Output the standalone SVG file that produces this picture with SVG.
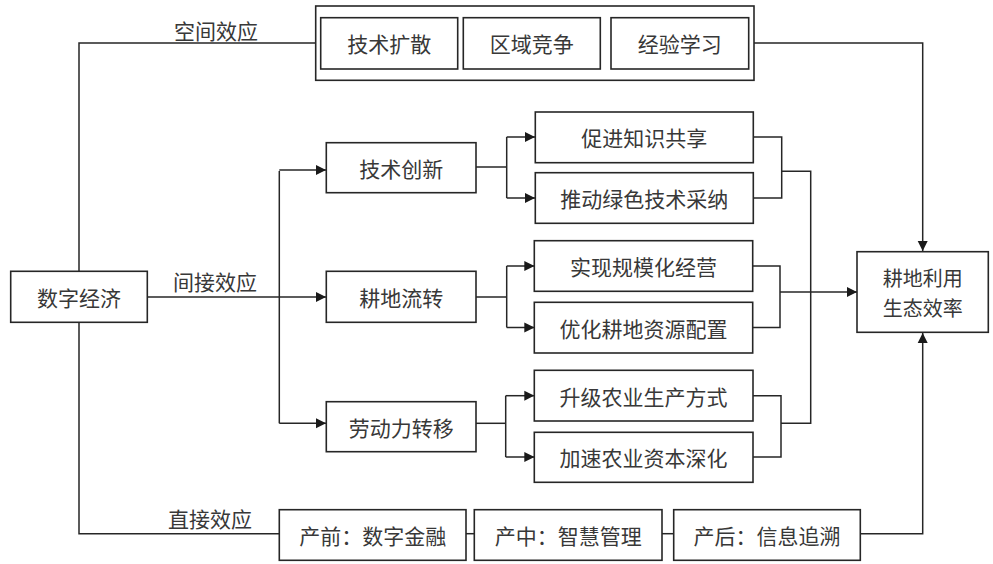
<svg xmlns="http://www.w3.org/2000/svg" width="993" height="564" viewBox="0 0 993 564">
<style>
.b{fill:#fff;stroke:#262626;stroke-width:1.6}
.l{fill:none;stroke:#262626;stroke-width:1.5}
text{font-family:"Noto Sans CJK SC","Liberation Serif",serif;font-size:21px;fill:#383838;text-anchor:middle;dominant-baseline:central}
</style>
<defs>
<marker id="a" viewBox="0 0 10 11" refX="10" refY="5.5" markerWidth="10" markerHeight="11" markerUnits="userSpaceOnUse" orient="auto">
<path d="M0,0.5 L10,5.5 L0,10.5 Z" fill="#1a1a1a"/>
</marker>
</defs>
<g id="connectors">
<path class="l" d="M79,271 V43 H316"/>
<path class="l" d="M754,43 H922.7 V251" marker-end="url(#a)"/>
<path class="l" d="M147,297 H326" marker-end="url(#a)"/>
<path class="l" d="M279.3,171 V423.3"/>
<path class="l" d="M279.3,170 H326" marker-end="url(#a)"/>
<path class="l" d="M279.3,423.3 H326" marker-end="url(#a)"/>
<path class="l" d="M79,322 V533.7 H279.3"/>
<path class="l" d="M466,533.7 H474.3"/>
<path class="l" d="M662,533.7 H673.7"/>
<path class="l" d="M860.3,533.7 H922.7 V333" marker-end="url(#a)"/>
<path class="l" d="M476,167 H506.7"/>
<path class="l" d="M506.7,137 V198"/>
<path class="l" d="M506.7,137 H535" marker-end="url(#a)"/>
<path class="l" d="M506.7,198 H535" marker-end="url(#a)"/>
<path class="l" d="M476,297 H506.7"/>
<path class="l" d="M506.7,266 V327.5"/>
<path class="l" d="M506.7,266 H534.3" marker-end="url(#a)"/>
<path class="l" d="M506.7,327.5 H534.3" marker-end="url(#a)"/>
<path class="l" d="M476,423.3 H505.7"/>
<path class="l" d="M505.7,395.7 V457"/>
<path class="l" d="M505.7,395.7 H534.3" marker-end="url(#a)"/>
<path class="l" d="M505.7,457 H534.3" marker-end="url(#a)"/>
<path class="l" d="M753.3,137 H781.7 V198 H753.3"/>
<path class="l" d="M781.7,171.3 H810.7 V423.3 H781"/>
<path class="l" d="M752.7,266 H780 V327.5 H752.7"/>
<path class="l" d="M780,292 H857" marker-end="url(#a)"/>
<path class="l" d="M753,395.7 H781 V457 H753"/>
</g>
<g id="labels">
<text x="216" y="30">空间效应</text>
<text x="215" y="281">间接效应</text>
<text x="210" y="518">直接效应</text>
</g>
<g id="spatial">
<rect class="b" x="315.7" y="6" width="438.3" height="74.3"/>
<g id="n-jsks"><rect class="b" x="320.7" y="17.7" width="137" height="51.3"/><text x="389.2" y="43.3">技术扩散</text></g>
<g id="n-qyjz"><rect class="b" x="463.3" y="17.7" width="137" height="51.3"/><text x="531.8" y="43.3">区域竞争</text></g>
<g id="n-jyxx"><rect class="b" x="611" y="17.7" width="137.7" height="51.3"/><text x="679.8" y="43.3">经验学习</text></g>
</g>
<g id="n-szjj"><rect class="b" x="10.7" y="271.3" width="136.6" height="51"/><text x="79" y="297">数字经济</text></g>
<g id="n-jscx"><rect class="b" x="326.3" y="142.7" width="149.7" height="50"/><text x="401.2" y="167.7">技术创新</text></g>
<g id="n-gdlz"><rect class="b" x="326.3" y="271.3" width="149.7" height="51"/><text x="401.2" y="297">耕地流转</text></g>
<g id="n-ldlzy"><rect class="b" x="326.3" y="401.7" width="149.7" height="50"/><text x="401.2" y="426.7">劳动力转移</text></g>
<g id="n-cjzsgx"><rect class="b" x="535.3" y="112" width="218" height="50.7"/><text x="644.3" y="137.3">促进知识共享</text></g>
<g id="n-tdlsjscn"><rect class="b" x="535.3" y="172.7" width="218" height="50.6"/><text x="644.3" y="198">推动绿色技术采纳</text></g>
<g id="n-sxgmhjy"><rect class="b" x="534.3" y="240.7" width="218.4" height="50.6"/><text x="643.5" y="266">实现规模化经营</text></g>
<g id="n-yhgdzypz"><rect class="b" x="534.3" y="302.3" width="218.4" height="50.7"/><text x="643.5" y="327.7">优化耕地资源配置</text></g>
<g id="n-sjnyscfs"><rect class="b" x="534.3" y="370.3" width="218.7" height="50.7"/><text x="643.6" y="395.7">升级农业生产方式</text></g>
<g id="n-jsnyzbsh"><rect class="b" x="534.3" y="432.3" width="218.7" height="50"/><text x="643.6" y="457.3">加速农业资本深化</text></g>
<g id="n-gdly"><rect class="b" x="857" y="251.7" width="131.3" height="80.6"/><text x="922.7" y="277" style="font-size:20px">耕地利用<tspan x="922.7" dy="29.5">生态效率</tspan></text></g>
<g id="n-cq"><rect class="b" x="279.3" y="509.7" width="186.7" height="50.6"/><text x="372.7" y="535">产前：数字金融</text></g>
<g id="n-cz"><rect class="b" x="474.3" y="509.7" width="187.7" height="50.6"/><text x="568.2" y="535">产中：智慧管理</text></g>
<g id="n-ch"><rect class="b" x="673.7" y="509.7" width="186.6" height="50.6"/><text x="767" y="535">产后：信息追溯</text></g>
</svg>
